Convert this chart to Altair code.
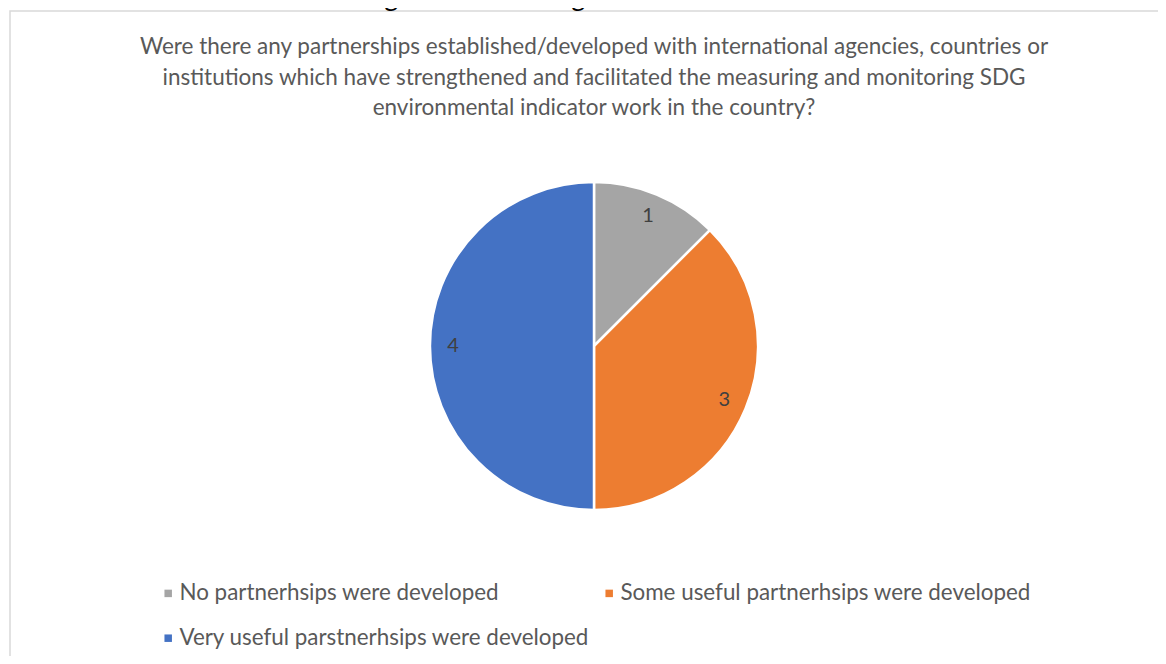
import altair as alt
import pandas as pd

categories = [
    "No partnerhsips were developed",
    "Some useful partnerhsips were developed",
    "Very useful parstnerhsips were developed",
]
counts = [1, 3, 4]
colors = ["#A5A5A5", "#ED7D31", "#4472C4"]
# legend reading order (row by row, two columns)
legend_order = [categories[0], categories[2], categories[1]]
legend_colors = [colors[0], colors[2], colors[1]]
question_lines = [
    "Were there any partnerships established/developed with international agencies, countries or",
    "institutions which have strengthened and facilitated the measuring and monitoring SDG",
    "environmental indicator work in the country?",
]
cut_title = "the measuring and monitoring of SDG/environment indicators"

df = pd.DataFrame({"category": categories, "count": counts, "order": list(range(len(categories)))})

W, H, PT = 1150, 524, 124
CX, CY, R = 586, 214, 164
FONT = "Lato"

base = alt.Chart(df).encode(
    theta=alt.Theta("count:Q", stack=True),
    order=alt.Order("order:Q"),
)

pie = base.mark_arc(outerRadius=R, stroke="white", strokeWidth=2.5).encode(
    x=alt.value(CX),
    y=alt.value(CY),
    color=alt.Color(
        "category:N",
        scale=alt.Scale(domain=legend_order, range=legend_colors),
        legend=alt.Legend(
            title=None,
            orient="none",
            legendX=149,
            legendY=450,
            columns=2,
            symbolType="square",
            symbolSize=56,
            symbolStrokeWidth=0,
            labelFontSize=22.4,
            labelFont=FONT,
            labelColor="#595959",
            labelOffset=0,
            labelLimit=700,
            columnPadding=8,
            rowPadding=22,
        ),
    ),
)

labels = base.mark_text(radius=141, fontSize=20, font=FONT, color="#404040").encode(
    x=alt.value(CX),
    y=alt.value(CY),
    text="count:Q",
)

one = pd.DataFrame({"t": [cut_title]})
border = alt.Chart(one).mark_rect(fill="transparent", stroke="#d9d9d9", strokeWidth=1.5).encode(
    x=alt.value(2), x2=alt.value(1400), y=alt.value(3 - PT), y2=alt.value(1000)
)
cut = alt.Chart(one).mark_text(fontSize=27, font=FONT, color="#000000", baseline="alphabetic").encode(
    x=alt.value(588), y=alt.value(-126), text="t:N"
)
question = alt.Chart(one).mark_text(
    fontSize=22.5, font=FONT, color="#595959", baseline="middle", align="center", lineHeight=30.5
).encode(
    x=alt.value(586), y=alt.value(-85), text=alt.value(question_lines)
)

chart = (
    alt.layer(border, cut, question, pie, labels)
    .properties(
        width=W,
        height=H,
        autosize=alt.AutoSizeParams(type="none"),
        padding={"left": 0, "right": 0, "top": PT, "bottom": 0},
        background="white",
    )
    .configure_view(stroke=None)
)

chart.save("out.html", embed_options={"renderer": "svg", "actions": False})
